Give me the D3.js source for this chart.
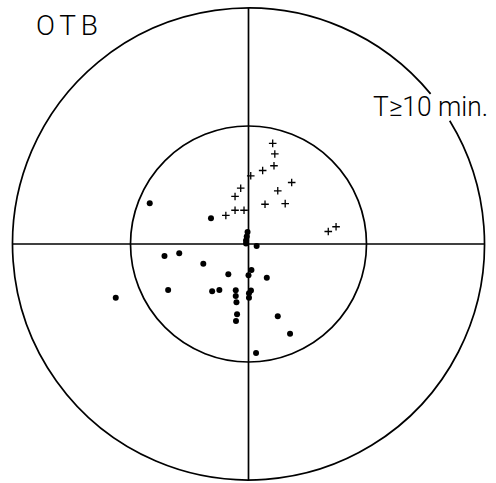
<!DOCTYPE html>
<html><head><meta charset="utf-8">
<script src="https://cdn.jsdelivr.net/npm/d3@7"></script>
<style>html,body{margin:0;padding:0;background:#fff;}</style>
</head><body>
<script>
// Data in units where inner circle radius = 1, outer circle radius = 2
const plusX = [0.205,0.223,0.216,0.120,0.019,0.366,0.248,-0.066,-0.114,0.311,0.140,-0.114,-0.038,-0.192,0.676,0.742];
const plusY = [0.853,0.763,0.663,0.623,0.578,0.521,0.451,0.473,0.403,0.342,0.337,0.286,0.286,0.242,0.106,0.146];
const dotX = [-0.837,-0.318,-0.008,-0.015,-0.021,-0.021,0.069,-0.712,-0.587,-0.383,0.025,-0.171,0.000,0.155,-0.681,-0.308,-0.247,-0.108,-0.108,-0.102,0.021,0.004,0.004,-1.125,-0.097,-0.106,0.248,0.352,0.064];
const dotY = [0.345,0.218,0.102,0.064,0.030,0.004,-0.017,-0.102,-0.079,-0.168,-0.220,-0.257,-0.265,-0.286,-0.390,-0.400,-0.390,-0.392,-0.441,-0.494,-0.394,-0.418,-0.455,-0.455,-0.595,-0.653,-0.613,-0.761,-0.924];
const ringRadii = [1, 2];
const titleLeft = "OTB";
const titleRight = "T≥10 min.";

const W = 496, H = 483;
const cx = 248.5, cy = 244, unit = 118;
const x = d3.scaleLinear().domain([-2, 2]).range([cx - 2*unit, cx + 2*unit]);
const y = d3.scaleLinear().domain([-2, 2]).range([cy + 2*unit, cy - 2*unit]);

const svg = d3.select("body").append("svg").attr("width", W).attr("height", H);

// axes lines
svg.append("line").attr("x1", x(-2)).attr("x2", x(2)).attr("y1", y(0)).attr("y2", y(0))
  .attr("stroke", "#000").attr("stroke-width", 1.7);
svg.append("line").attr("x1", x(0)).attr("x2", x(0)).attr("y1", y(2)).attr("y2", y(-2))
  .attr("stroke", "#000").attr("stroke-width", 1.7);

// inner circle
svg.append("circle").attr("cx", x(0)).attr("cy", y(0)).attr("r", x(ringRadii[0]) - x(0))
  .attr("fill", "none").attr("stroke", "#000").attr("stroke-width", 1.7);

// outer circle with a gap for the label
const deg = Math.PI / 180;
const p = d3.path();
const R = x(ringRadii[1]) - x(0);
p.arc(x(0), y(0), R, -31.5*deg, 320.5*deg, false);
svg.append("path").attr("d", p.toString()).attr("fill", "none").attr("stroke", "#000").attr("stroke-width", 1.7);

// plus markers
const arm = 3.8;
svg.append("g").selectAll("path").data(d3.range(plusX.length)).join("path")
  .attr("d", i => {
    const px = x(plusX[i]), py = y(plusY[i]);
    return `M${px-arm},${py}H${px+arm}M${px},${py-arm}V${py+arm}`;
  })
  .attr("stroke", "#000").attr("stroke-width", 1.3).attr("fill", "none");

// dots
svg.append("g").selectAll("circle").data(d3.range(dotX.length)).join("circle")
  .attr("cx", i => x(dotX[i])).attr("cy", i => y(dotY[i])).attr("r", 3).attr("fill", "#000");

// labels
svg.append("text").attr("x", 36).attr("y", 35).text(titleLeft)
  .attr("font-family", "Roboto, 'Liberation Sans', sans-serif").attr("font-weight", 300)
  .attr("font-size", 28).attr("textLength", 62).attr("lengthAdjust", "spacing").attr("fill", "#000");
svg.append("text").attr("x", 373).attr("y", 116).text(titleRight)
  .attr("font-family", "Roboto, 'Liberation Sans', sans-serif").attr("font-weight", 300)
  .attr("font-size", 27).attr("textLength", 115).attr("lengthAdjust", "spacingAndGlyphs").attr("fill", "#000");
</script>
</body></html>
